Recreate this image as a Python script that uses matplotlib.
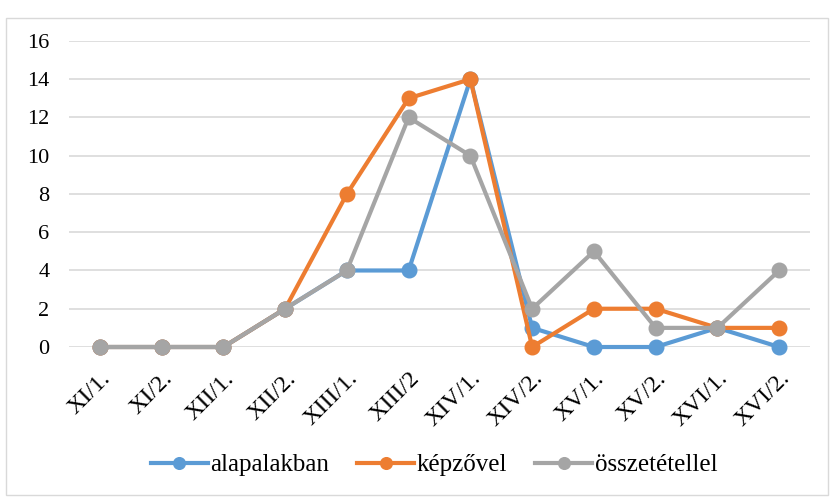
import matplotlib.pyplot as plt
from matplotlib.patches import Rectangle

categories = ['XI/1.', 'XI/2.', 'XII/1.', 'XII/2.', 'XIII/1.', 'XIII/2',
              'XIV/1.', 'XIV/2.', 'XV/1.', 'XV/2.', 'XVI/1.', 'XVI/2.']
alapalakban = [0, 0, 0, 2, 4, 4, 14, 1, 0, 0, 1, 0]
kepzovel = [0, 0, 0, 2, 8, 13, 14, 0, 2, 2, 1, 1]
osszetetellel = [0, 0, 0, 2, 4, 12, 10, 2, 5, 1, 1, 4]

plt.rcParams['font.family'] = ['Liberation Serif', 'DejaVu Serif']

fig = plt.figure(figsize=(8.3, 4.99), dpi=100)
ax = fig.add_axes([0.0831, 0.3046, 0.8929, 0.6134])

x = range(len(categories))
ax.plot(x, alapalakban, color='#5B9BD5', lw=3, marker='o', ms=10.5, label='alapalakban', zorder=3)
ax.plot(x, kepzovel, color='#ED7D31', lw=3, marker='o', ms=10.5, label='képzővel', zorder=4)
ax.plot(x, osszetetellel, color='#A5A5A5', lw=3, marker='o', ms=10.5, label='összetétellel', zorder=5)

ax.set_xlim(-0.5, 11.5)
ax.set_ylim(0, 16)
ax.set_yticks(range(0, 17, 2))
ax.set_xticks(list(x))
ax.set_xticklabels(categories, rotation=45, ha='right', rotation_mode='anchor')
ax.tick_params(length=0)
ax.tick_params(axis='y', pad=14, labelsize=16)
ax.tick_params(axis='x', pad=15, labelsize=17.5)
ax.grid(axis='y', color='#D9D9D9', lw=1.2)
ax.set_axisbelow(True)
for s in ax.spines.values():
    s.set_visible(False)
for line in ax.lines:
    line.set_clip_on(False)

fig.legend(loc='center', bbox_to_anchor=(0.523, 0.068), ncol=3, frameon=False,
           fontsize=18, handlelength=2.3, handletextpad=0.1, columnspacing=1.1,
           markerscale=0.8)

fig.patches.append(Rectangle((6 / 830, 4 / 499), 822 / 830, 477 / 499, transform=fig.transFigure,
                             fill=False, edgecolor='#D9D9D9', lw=1))

fig.savefig('out.png', dpi=100)
